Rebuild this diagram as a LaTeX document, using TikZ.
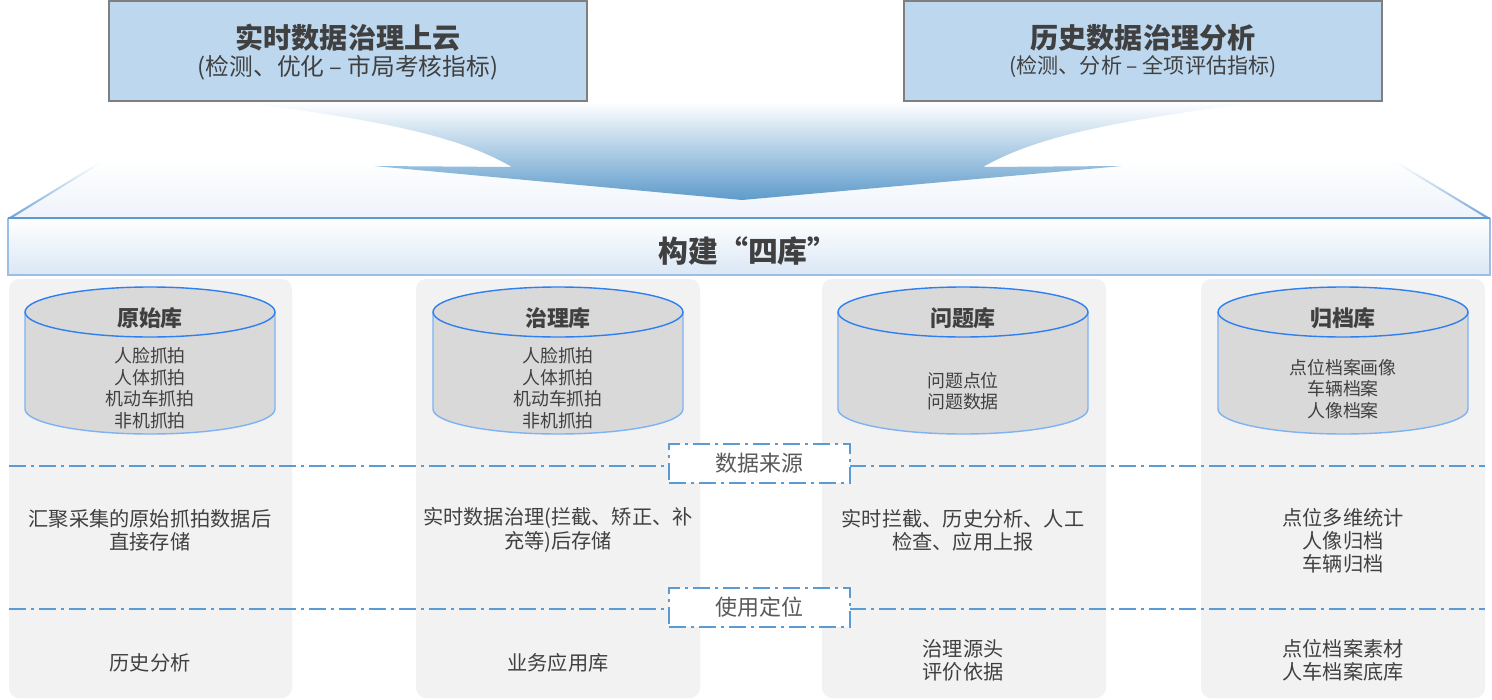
\documentclass[tikz,border=0pt]{standalone}
\usepackage{fontspec}
\setmainfont{Noto Sans CJK SC}
\definecolor{boxblue}{HTML}{BDD7EE}
\definecolor{boxgray}{HTML}{7F7F7F}
\definecolor{textgray}{HTML}{404040}
\definecolor{labelgray}{HTML}{595959}
\definecolor{lineblue}{HTML}{5B9BD5}
\definecolor{edgeblue}{HTML}{6FA3D8}
\definecolor{bannerblue}{HTML}{DAE7F5}
\definecolor{platblue}{HTML}{EEF3FA}
\definecolor{funnelblue}{HTML}{5E9BCB}
\definecolor{colgray}{HTML}{F2F2F2}
\definecolor{cylgray}{HTML}{D9D9D9}
\definecolor{cyltopblue}{HTML}{2F7FF0}
\definecolor{cylsideblue}{HTML}{7DB2F4}
\begin{document}
\begin{tikzpicture}[x=0.02cm,y=-0.02cm,
    topbox/.style={draw=boxgray,line width=1.1pt,fill=boxblue,minimum width=9.56cm,minimum height=2cm,inner sep=0pt},
    toptitle/.style={text=textgray,font=\fontsize{16}{18}\selectfont\bfseries},
    topsub/.style={text=textgray,font=\fontsize{13.5}{15}\selectfont},
    cyltitle/.style={text=textgray,font=\fontsize{12.5}{14}\selectfont\bfseries},
    cyltext/.style={text=textgray,align=center,font=\fontsize{10.2}{12.3}\selectfont},
    desc/.style={text=textgray,align=center,font=\fontsize{11.5}{13.2}\selectfont},
    dashdot/.style={lineblue,line width=0.04cm,dash pattern=on 0.34cm off 0.1cm on 0.06cm off 0.1cm},
    tagbox/.style={dashdot,draw=lineblue,fill=white,text=labelgray,minimum width=3.62cm,minimum height=0.78cm,inner sep=0pt,font=\fontsize{12.5}{14}\selectfont},
    cylbody/.style={draw=cylsideblue,line width=0.8pt,fill=cylgray},
    cyltop/.style={draw=cyltopblue,line width=0.8pt,fill=cylgray}]
    \useasboundingbox (0,0) rectangle (1492,700);
    %% Top boxes
    \node[topbox] (rt) at (348,51) {};
    \node[toptitle] (rt-title) at (348,38) {实时数据治理上云};
    \node[topsub] (rt-sub) at (348,68) {(检测、优化 – 市局考核指标)};
    \node[topbox] (hist) at (1143,51) {};
    \node[toptitle] (hist-title) at (1143,38) {历史数据治理分析};
    \node[topsub,font=\fontsize{12}{14}\selectfont] (hist-sub) at (1143,67) {(检测、分析 – 全项评估指标)};
    %% Platform
    \shade[top color=white,bottom color=platblue] (8,218) -- (100,160) -- (1397,160) -- (1490,218) -- cycle;
    \shade[top color=white,bottom color=edgeblue] (8,218) -- (100,162) -- (103,162) -- (12,218) -- cycle;
    \shade[top color=white,bottom color=edgeblue] (1490,218) -- (1397,162) -- (1394,162) -- (1486,218) -- cycle;
    %% Funnel
    \shade[top color=white,middle color=funnelblue!18,bottom color=funnelblue]
        (238,102) .. controls (400,122) and (465,140) .. (512,167) -- (374,166) -- (742,200)
        -- (1122,166) -- (983,167) .. controls (1030,140) and (1100,122) .. (1262,102) -- cycle;
    %% Banner
    \shade[top color=white,bottom color=bannerblue] (8,218) rectangle (1490,275);
    \draw[edgeblue!70,line width=0.6pt] (8,218) -- (8,275) -- (1490,275) -- (1490,218);
    \draw[lineblue,line width=0.04cm] (8,218) -- (1490,218);
    \node[text=textgray,font=\fontsize{17}{19}\selectfont\bfseries] (build) at (748,251) {构建“四库”};
    %% Columns
    \fill[colgray,rounded corners=0.2cm] (9,279) rectangle (292,698);
    \fill[colgray,rounded corners=0.2cm] (416,279) rectangle (700,698);
    \fill[colgray,rounded corners=0.2cm] (822,279) rectangle (1106,698);
    \fill[colgray,rounded corners=0.2cm] (1201,279) rectangle (1485,698);
    %% Cylinders
    \draw[cylbody] (25,312) -- (25,409) arc[start angle=180,end angle=360,x radius=2.5cm,y radius=0.5cm] -- (275,312);
    \draw[cyltop] (150,312) ellipse[x radius=2.5cm,y radius=0.5cm];
    \draw[cylbody] (433,312) -- (433,409) arc[start angle=180,end angle=360,x radius=2.5cm,y radius=0.5cm] -- (683,312);
    \draw[cyltop] (558,312) ellipse[x radius=2.5cm,y radius=0.5cm];
    \draw[cylbody] (838,312) -- (838,409) arc[start angle=180,end angle=360,x radius=2.5cm,y radius=0.5cm] -- (1088,312);
    \draw[cyltop] (963,312) ellipse[x radius=2.5cm,y radius=0.5cm];
    \draw[cylbody] (1218,312) -- (1218,409) arc[start angle=180,end angle=360,x radius=2.5cm,y radius=0.5cm] -- (1468,312);
    \draw[cyltop] (1343,312) ellipse[x radius=2.5cm,y radius=0.5cm];
    %% Cylinder labels
    \node[cyltitle] (raw) at (150,318) {原始库};
    \node[cyltext] (raw-items) at (150,388) {人脸抓拍\\人体抓拍\\机动车抓拍\\非机抓拍};
    \node[cyltitle] (gov) at (558,318) {治理库};
    \node[cyltext] (gov-items) at (558,388) {人脸抓拍\\人体抓拍\\机动车抓拍\\非机抓拍};
    \node[cyltitle] (prob) at (963,318) {问题库};
    \node[cyltext] (prob-items) at (963,391) {问题点位\\问题数据};
    \node[cyltitle] (arch) at (1343,318) {归档库};
    \node[cyltext] (arch-items) at (1343,389) {点位档案画像\\车辆档案\\人像档案};
    %% Separators
    \draw[dashdot] (9,466) -- (1485,466);
    \draw[dashdot] (9,609) -- (1485,609);
    \node[tagbox] (source) at (759.5,463.5) {数据来源};
    \node[tagbox] (usage) at (759.5,607) {使用定位};
    %% Data source
    \node[desc] (raw-src) at (150,530) {汇聚采集的原始抓拍数据后\\直接存储};
    \node[desc] (gov-src) at (558,530) {实时数据治理(拦截、矫正、补\\充等)后存储};
    \node[desc] (prob-src) at (963,530) {实时拦截、历史分析、人工\\检查、应用上报};
    \node[desc] (arch-src) at (1343,541) {点位多维统计\\人像归档\\车辆归档};
    %% Usage
    \node[desc] (raw-use) at (150,663) {历史分析};
    \node[desc] (gov-use) at (558,663) {业务应用库};
    \node[desc] (prob-use) at (963,660.5) {治理源头\\评价依据};
    \node[desc] (arch-use) at (1343,660.5) {点位档案素材\\人车档案底库};
\end{tikzpicture}
\end{document}
